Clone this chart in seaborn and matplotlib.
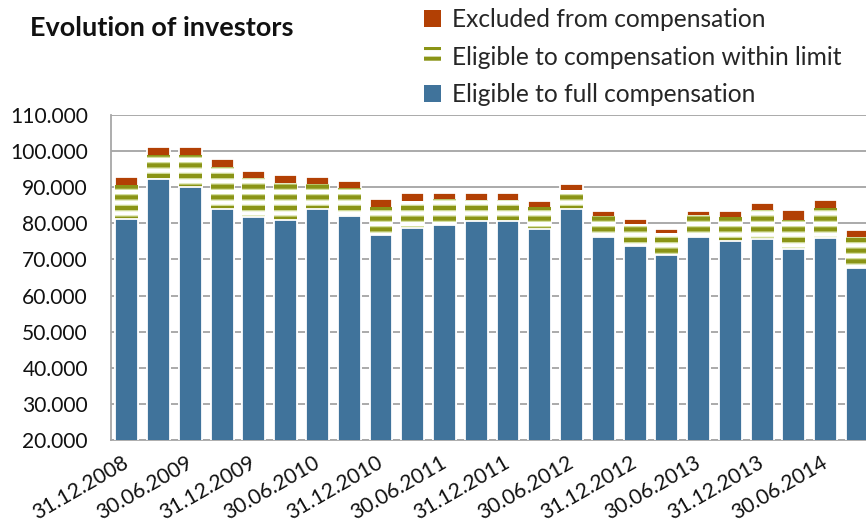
import numpy as np
import pandas as pd
import matplotlib as mpl
import matplotlib.pyplot as plt
import seaborn as sns
from matplotlib.patches import Patch
from matplotlib.ticker import FuncFormatter

# quarterly reporting dates
dates = ["31.12.2008", "31.03.2009", "30.06.2009", "30.09.2009",
         "31.12.2009", "31.03.2010", "30.06.2010", "30.09.2010",
         "31.12.2010", "31.03.2011", "30.06.2011", "30.09.2011",
         "31.12.2011", "31.03.2012", "30.06.2012", "30.09.2012",
         "31.12.2012", "31.03.2013", "30.06.2013", "30.09.2013",
         "31.12.2013", "31.03.2014", "30.06.2014", "30.09.2014"]

# number of investors per category
full = [81100, 92300, 90100, 84100, 81700, 80900, 83900, 82000,
        76900, 78800, 79500, 80700, 80700, 78300, 83900, 76200,
        73800, 71100, 76300, 75100, 75600, 73000, 75900, 67500]
within_limit = [9500, 6600, 8800, 11400, 10800, 10200, 6900, 7700,
                7700, 7500, 7200, 5800, 5800, 6300, 5400, 5700,
                6000, 6100, 6000, 6600, 8100, 7900, 8400, 8700]
excluded = [2300, 2300, 2300, 2300, 2100, 2300, 2100, 2100,
            2000, 2000, 1800, 1800, 1800, 1600, 1500, 1500,
            1400, 1200, 1100, 1700, 1800, 2800, 2200, 2000]

blue = "#40739B"
orange = "#B24004"
olive = "#8A9416"
fringe = "#D3DE9C"

df = pd.DataFrame({"date": dates, "full": full})
df["mid"] = df["full"] + np.array(within_limit)
df["total"] = df["mid"] + np.array(excluded)

sns.set_style("white")
plt.rcParams["font.family"] = ["Lato", "DejaVu Sans"]

DPI = 128
fig = plt.figure(figsize=(866 / DPI, 529 / DPI), dpi=DPI)
ax = fig.add_axes([111 / 866, 1 - 440 / 529, (866 - 111) / 866, 325 / 529])

bw = 0.72
# top segment: drawn as the full stack height, covered by the layers below
sns.barplot(data=df, x="date", y="total", color=orange, width=bw,
            saturation=1, ax=ax, zorder=2)
n0 = len(ax.patches)

# middle segment: striped pattern (light fringe + olive core)
plt.rcParams["hatch.linewidth"] = 3.7
sns.barplot(data=df, x="date", y="mid", color="white", width=bw,
            saturation=1, ax=ax, zorder=3)
for p in ax.patches[n0:]:
    p.set_facecolor("white")
    p.set_hatch("--")
    p.set_edgecolor(fringe)
    p.set_linewidth(0)
    if hasattr(p, "set_hatch_linewidth"):
        p.set_hatch_linewidth(3.7)
n1 = len(ax.patches)

plt.rcParams["hatch.linewidth"] = 2.3
sns.barplot(data=df, x="date", y="mid", color="white", width=bw,
            saturation=1, ax=ax, zorder=4)
for p in ax.patches[n1:]:
    p.set_facecolor("none")
    p.set_hatch("--")
    p.set_edgecolor(olive)
    p.set_linewidth(0)
    if hasattr(p, "set_hatch_linewidth"):
        p.set_hatch_linewidth(2.3)

# bottom segment
sns.barplot(data=df, x="date", y="full", color=blue, width=bw,
            saturation=1, ax=ax, zorder=5)

ax.set_ylim(20000, 110000)
ax.set_xlim(-0.5, 23.27)
ax.set_yticks(range(20000, 110001, 10000))
ax.yaxis.set_major_formatter(FuncFormatter(lambda v, p: f"{v:,.0f}".replace(",", ".")))
ax.set_xticks(range(0, len(dates), 2))
ax.set_xticklabels(dates[::2], rotation=30, ha="right", va="center",
                   rotation_mode="anchor")
ax.set_xlabel("")
ax.set_ylabel("")
ax.tick_params(axis="y", length=0, pad=13, labelsize=11.8, colors="#111111")
ax.tick_params(axis="x", length=0, pad=12, labelsize=11.8, colors="#111111")

ax.set_axisbelow(True)
ax.grid(axis="y", color="#ABABAB", linewidth=1.1)
ax.grid(axis="x", visible=False)
for s in ["top", "right"]:
    ax.spines[s].set_visible(False)
for s in ["left", "bottom"]:
    ax.spines[s].set_color("#A6A6A6")
    ax.spines[s].set_linewidth(1.0)

fig.text(30 / 866, 1 - 28 / 529, "Evolution of investors", fontsize=15.2,
         fontweight="bold", va="center", ha="left", color="#111111")

handles = [Patch(facecolor=orange, edgecolor="none"),
           Patch(facecolor="white", edgecolor=olive, hatch="--", linewidth=0),
           Patch(facecolor=blue, edgecolor="none")]
labels = ["Excluded from compensation",
          "Eligible to compensation within limit",
          "Eligible to full compensation"]
fig.legend(handles, labels, loc="upper left", bbox_to_anchor=(419 / 866, 1 - 3 / 529),
           frameon=False, fontsize=13.8, handlelength=0.7, handleheight=0.7,
           handletextpad=0.45, labelspacing=0.6, borderaxespad=0, borderpad=0.2)

fig.savefig("out.png", dpi=DPI)
